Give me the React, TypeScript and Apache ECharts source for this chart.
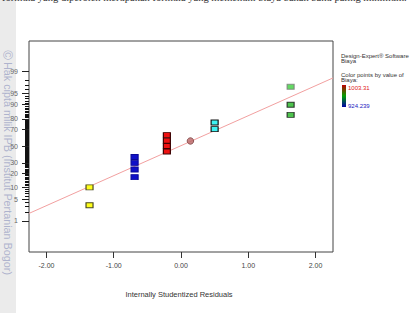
import React, { useEffect, useRef } from "react";
import * as echarts from "echarts";

// Internally studentized residuals (x) and normal % probability (y), grouped by point colour
const yellowResid = [-1.36, -1.36];
const yellowProb = [3.3, 10.0];
const blueResid = [-0.69, -0.69, -0.69, -0.69];
const blueProb = [16.7, 23.3, 30.0, 36.7];
const redResid = [-0.21, -0.21, -0.21, -0.21];
const redProb = [43.3, 50.0, 56.7, 63.3];
const brownResid = [0.14];
const brownProb = [56.2];
const cyanResid = [0.5, 0.5];
const cyanProb = [70.0, 76.7];
const greenResid = [1.63, 1.63, 1.63];
const greenProb = [83.3, 90.0, 96.7];

// Reference line end points
const lineResid = [-2.26, 2.26];
const lineProb = [1.82, 98.27];

// Axis ticks
const xTicks = [-2, -1, 0, 1, 2];
const probLabels = [1, 5, 10, 20, 30, 50, 70, 80, 90, 95, 99];
const probMinor = [
  2, 3, 4, 6, 7, 8, 9,
  11, 12, 13, 14, 15, 16, 17, 18, 19,
  21, 22, 23, 24, 25, 26, 27, 28, 29,
  31, 32, 33, 34, 35, 36, 37, 38, 39, 40, 41, 42, 43, 44, 45, 46, 47, 48, 49,
  51, 52, 53, 54, 55, 56, 57, 58, 59, 60, 61, 62, 63, 64, 65, 66, 67, 68, 69,
  71, 72, 73, 74, 75, 76, 77, 78, 79,
  81, 82, 83, 84, 85, 86, 87, 88, 89,
  91, 92, 93, 94, 96, 97, 98,
];

// Colour scale legend limits
const biayaMax = "1003.31";
const biayaMin = "924.239";

// Inverse standard normal CDF (Acklam) — maps a probability onto the normal-score axis
function probit(p: number): number {
  const a = [-39.69683028665376, 220.9460984245205, -275.9285104469687, 138.357751867269, -30.66479806614716, 2.506628277459239];
  const b = [-54.47609879822406, 161.5858368580409, -155.6989798598866, 66.80131188771972, -13.28068155288572];
  const c = [-0.007784894002430293, -0.3223964580411365, -2.400758277161838, -2.549732539343734, 4.374664141464968, 2.938163982698783];
  const d = [0.007784695709041462, 0.3224671290700398, 2.445134137142996, 3.754408661907416];
  const plow = 0.02425;
  const phigh = 1 - plow;
  if (p < plow) {
    const q = Math.sqrt(-2 * Math.log(p));
    return (((((c[0] * q + c[1]) * q + c[2]) * q + c[3]) * q + c[4]) * q + c[5]) /
      ((((d[0] * q + d[1]) * q + d[2]) * q + d[3]) * q + 1);
  }
  if (p <= phigh) {
    const q = p - 0.5;
    const r = q * q;
    return ((((((a[0] * r + a[1]) * r + a[2]) * r + a[3]) * r + a[4]) * r + a[5]) * q) /
      (((((b[0] * r + b[1]) * r + b[2]) * r + b[3]) * r + b[4]) * r + 1);
  }
  const q = Math.sqrt(-2 * Math.log(1 - p));
  return -(((((c[0] * q + c[1]) * q + c[2]) * q + c[3]) * q + c[4]) * q + c[5]) /
    ((((d[0] * q + d[1]) * q + d[2]) * q + d[3]) * q + 1);
}

const toPoints = (xs: number[], ps: number[]) => xs.map((x, i) => [x, probit(ps[i] / 100)]);

const SANS = "Liberation Sans, Arial, sans-serif";

export default function App() {
  const ref = useRef<HTMLDivElement>(null);

  useEffect(() => {
    if (!ref.current) return;
    const chart = echarts.init(ref.current, undefined, { renderer: "svg" });

    const rectMarker = (fill: string, border: string) => ({
      type: "scatter",
      symbol: "rect",
      symbolSize: [7, 5],
      itemStyle: { color: fill, borderColor: border, borderWidth: 1, opacity: 1 },
      z: 5,
    });

    const greenPts = toPoints(greenResid, greenProb).map((v, i) => ({
      value: v,
      itemStyle:
        i === 2
          ? { color: "#3ccf3c", borderColor: "#7a7a7a", borderWidth: 1 }
          : { color: "#22b422", borderColor: "#111", borderWidth: 1 },
    }));

    const option: any = {
      animation: false,
      backgroundColor: "#ffffff",
      textStyle: { fontFamily: SANS },
      grid: {
        left: 29,
        right: 79,
        top: 41,
        bottom: 61,
        show: true,
        borderColor: "#444",
        borderWidth: 1,
        containLabel: false,
        outerBoundsMode: "none",
      },
      xAxis: {
        type: "value",
        min: -2.26,
        max: 2.26,
        position: "bottom",
        axisLine: { show: false, onZero: false },
        splitLine: { show: false },
        axisTick: {
          show: true,
          customValues: xTicks,
          length: 6,
          lineStyle: { color: "#333", width: 1 },
        },
        axisLabel: {
          customValues: xTicks,
          formatter: (v: number) => v.toFixed(2),
          fontSize: 7,
          color: "#444",
          margin: 10,
          fontFamily: SANS,
        },
      },
      yAxis: [
        {
          type: "value",
          min: -3.29,
          max: 3.26,
          position: "left",
          axisLine: { show: false, onZero: false },
          splitLine: { show: false },
          axisTick: {
            show: true,
            customValues: probLabels.map((p) => probit(p / 100)),
            length: 7,
            lineStyle: { color: "#222", width: 1 },
          },
          axisLabel: {
            customValues: probLabels.map((p) => probit(p / 100)),
            formatter: (v: number) => {
              const hit = probLabels.find((p) => Math.abs(probit(p / 100) - v) < 1e-6);
              return hit === undefined ? "" : String(hit);
            },
            fontSize: 7,
            color: "#666",
            margin: 11,
            fontFamily: SANS,
          },
        },
        {
          type: "value",
          min: -3.29,
          max: 3.26,
          position: "left",
          offset: 0,
          axisLine: { show: false, onZero: false },
          splitLine: { show: false },
          axisTick: {
            show: true,
            customValues: probMinor.map((p) => probit(p / 100)),
            length: 4,
            lineStyle: { color: "#111", width: 1 },
          },
          axisLabel: { show: false },
        },
      ],
      series: [
        {
          type: "line",
          data: toPoints(lineResid, lineProb),
          symbol: "none",
          lineStyle: { color: "#f2a0a0", width: 1 },
          z: 2,
        },
        { ...rectMarker("#ffff1a", "#4a4a20"), data: toPoints(yellowResid, yellowProb) },
        { ...rectMarker("#1010c8", "#0a0a9a"), data: toPoints(blueResid, blueProb) },
        { ...rectMarker("#ee1010", "#3a0000"), data: toPoints(redResid, redProb) },
        {
          type: "scatter",
          symbol: "circle",
          symbolSize: 6.5,
          itemStyle: { color: "#b86464", borderColor: "#7c4040", borderWidth: 1 },
          data: toPoints(brownResid, brownProb),
          z: 5,
        },
        { ...rectMarker("#3ef2f2", "#111"), data: toPoints(cyanResid, cyanProb) },
        {
          type: "scatter",
          symbol: "rect",
          symbolSize: [7, 5],
          data: greenPts,
          z: 5,
        },
      ],
      graphic: [
        // Scanned page margin strip
        { type: "rect", shape: { x: 0, y: 0, width: 16, height: 313 }, style: { fill: "#ebebeb" }, z: 0 },
        // Running text cut off at the top of the page
        {
          type: "text",
          x: 2,
          y: 2.8,
          style: {
            text: "formula yang diperoleh merupakan formula yang memenuhi biaya bahan baku paling minimum.",
            font: "10.5px 'Liberation Serif', 'Times New Roman', serif",
            fill: "#333",
            verticalAlign: "bottom",
          },
        },
        // Axis title
        {
          type: "text",
          x: 179,
          y: 294,
          style: {
            text: "Internally Studentized Residuals",
            font: `7.5px ${SANS}`,
            fill: "#333",
            align: "center",
            verticalAlign: "middle",
          },
        },
        // Side legend
        { type: "text", x: 341, y: 56, style: { text: "Design-Expert® Software", font: `6px ${SANS}`, fill: "#333", verticalAlign: "middle" } },
        { type: "text", x: 341, y: 60.5, style: { text: "Biaya", font: `6px ${SANS}`, fill: "#333", verticalAlign: "middle" } },
        { type: "text", x: 341, y: 75, style: { text: "Color points by value of", font: `6px ${SANS}`, fill: "#333", verticalAlign: "middle" } },
        { type: "text", x: 341, y: 79.5, style: { text: "Biaya:", font: `6px ${SANS}`, fill: "#333", verticalAlign: "middle" } },
        {
          type: "rect",
          shape: { x: 342, y: 85, width: 4, height: 22 },
          style: {
            fill: new echarts.graphic.LinearGradient(0, 0, 0, 1, [
              { offset: 0, color: "#c00000" },
              { offset: 0.5, color: "#00a000" },
              { offset: 1, color: "#0000a8" },
            ]),
          },
        },
        { type: "text", x: 348, y: 88, style: { text: biayaMax, font: `6px ${SANS}`, fill: "#e02020", verticalAlign: "middle" } },
        { type: "text", x: 348, y: 106, style: { text: biayaMin, font: `6px ${SANS}`, fill: "#2020c0", verticalAlign: "middle" } },
        // Copyright watermark running down the margin
        {
          type: "text",
          x: 7.5,
          y: 55,
          rotation: -Math.PI / 2,
          style: {
            text: "©",
            font: `13px ${SANS}`,
            fill: "#a3a9c8",
            align: "center",
            verticalAlign: "middle",
            opacity: 0.85,
          },
          z: 20,
        },
        {
          type: "text",
          x: 8,
          y: 62,
          rotation: -Math.PI / 2,
          style: {
            text: "Hak cipta milik IPB (Institut Pertanian Bogor)",
            font: `10.8px ${SANS}`,
            fill: "#a3a9c8",
            align: "left",
            verticalAlign: "middle",
            opacity: 0.85,
          },
          z: 20,
        },
      ],
    };

    chart.setOption(option);
    return () => chart.dispose();
  }, []);

  return (
    <div
      ref={ref}
      style={{ position: "absolute", left: 0, top: 0, width: 412, height: 313, background: "#fff" }}
    />
  );
}
